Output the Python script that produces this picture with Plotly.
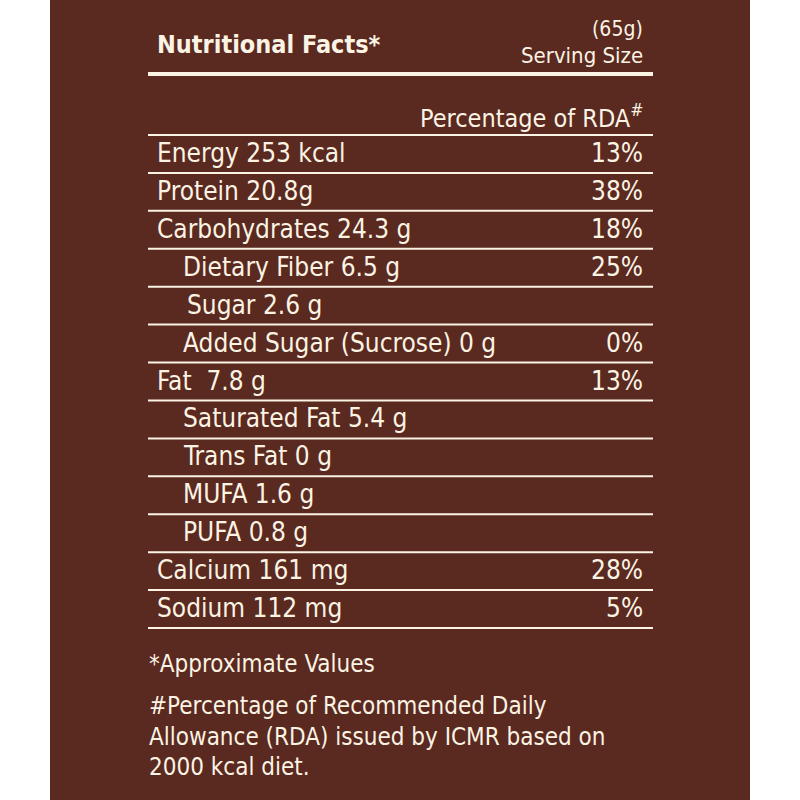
import plotly.graph_objects as go

#Label Data
row_labels = ["Energy 253 kcal", "Protein 20.8g", "Carbohydrates 24.3 g",
	"Dietary Fiber 6.5 g", "Sugar 2.6 g", "Added Sugar (Sucrose) 0 g",
	"Fat  7.8 g", "Saturated Fat 5.4 g", "Trans Fat 0 g", "MUFA 1.6 g",
	"PUFA 0.8 g", "Calcium 161 mg", "Sodium 112 mg"]
row_rda = ["13%", "38%", "18%", "25%", "", "0%", "13%", "", "", "", "", "28%", "5%"]
row_indent = [0, 0, 0, 1, 1, 1, 0, 1, 1, 1, 1, 0, 0]

footnotes = ["*Approximate Values", "#Percentage of Recommended Daily",
	"Allowance (RDA) issued by ICMR based on", "2000 kcal diet."]

BROWN = "#5a2920"
CREAM = "#fbf3e3"
FONT = "DejaVu Sans Condensed"

#Table Geometry (pixel space)
left, right = 148, 653
text_left, text_indent, text_right = 155, 181, 645
first_line, last_line = 135, 628
step = (last_line - first_line) / len(row_labels)

fig = go.Figure()

#Brown Panel
fig.add_shape(type="rect", x0=50, x1=750, y0=0, y1=800,
	fillcolor=BROWN, line_width=0, layer="below")

#Thick Rule Under Title
fig.add_trace(go.Scatter(x=[left, right], y=[74, 74], mode="lines",
	line=dict(color=CREAM, width=4), hoverinfo="skip"))

#Thin Row Rules
xs, ys = [], []
for i in range(len(row_labels) + 1):
	y = first_line + i * step
	xs += [left, right, None]
	ys += [y, y, None]
fig.add_trace(go.Scatter(x=xs, y=ys, mode="lines",
	line=dict(color=CREAM, width=2), hoverinfo="skip"))

def note(text, x, y, size, anchor="left", bold=False):
	fig.add_annotation(x=x, y=y, text="<b>%s</b>" % text if bold else text,
		xref="x", yref="y", showarrow=False, xanchor=anchor, yanchor="middle",
		font=dict(family=FONT, size=size, color=CREAM))

#Header
note("Nutritional Facts*", text_left, 44, 25, bold=True)
note("(65g)", text_right, 29, 21, anchor="right")
note("Serving Size", text_right, 55, 22, anchor="right")
note("Percentage of RDA<sup>#</sup>", text_right, 116, 25, anchor="right")

#Rows
for i, label in enumerate(row_labels):
	y = first_line + (i + 0.5) * step
	x = text_indent if row_indent[i] else text_left
	if label.startswith("Sugar"):
		x += 4
	note(label, x, y - 1, 26)
	if row_rda[i]:
		note(row_rda[i], text_right, y - 1, 26, anchor="right")

#Footnotes
note(footnotes[0], 147, 664, 24)
for j, line in enumerate(footnotes[1:]):
	note(line, 147, 706 + j * 30.5, 24)

fig.update_xaxes(range=[0, 800], visible=False, fixedrange=True)
fig.update_yaxes(range=[800, 0], visible=False, fixedrange=True)
fig.update_layout(width=800, height=800, margin=dict(l=0, r=0, t=0, b=0),
	paper_bgcolor="white", plot_bgcolor="white", showlegend=False)

#Drop The Page Margin So The Figure Sits At The Corner
fig.write_html("out.html", config={"displayModeBar": False},
	post_script="document.body.style.margin='0';")
